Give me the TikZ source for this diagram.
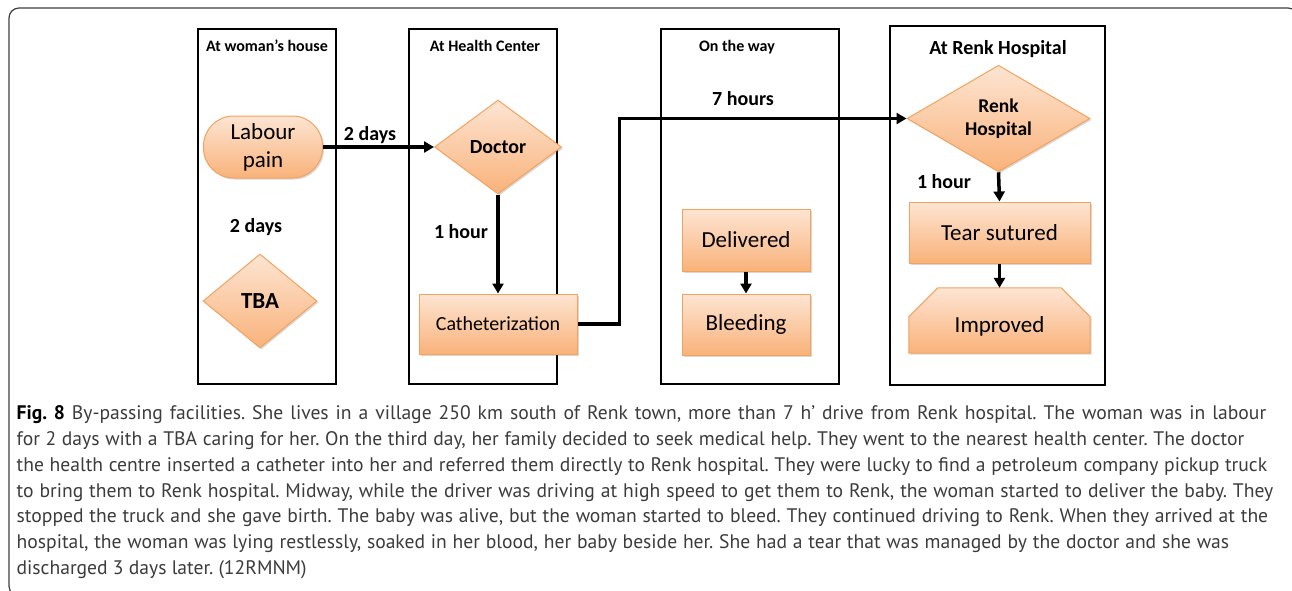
\documentclass[tikz,border=0pt]{standalone}
\usepackage{fontspec}
\setmainfont{Carlito}
\newfontfamily\capfont{PT Sans}
\usetikzlibrary{shapes.geometric,arrows.meta,shadows}
\definecolor{orTop}{HTML}{FDE5D3}
\definecolor{orBot}{HTML}{F9B27A}
\definecolor{orLine}{HTML}{F5A25C}
\definecolor{capgray}{HTML}{3C3C3C}
\frenchspacing
\begin{document}
\begin{tikzpicture}[x=1pt,y=-1pt,
  lane/.style={draw=black,line width=2.6pt},
  lanetitle/.style={font=\bfseries\fontsize{16}{18}\selectfont,inner sep=0pt},
  lbl/.style={font=\bfseries\fontsize{20}{22}\selectfont,inner sep=0pt},
  orfill/.style={draw=orLine,line width=1pt,top color=orTop,bottom color=orBot,
    drop shadow={opacity=0.25,shadow xshift=1.5pt,shadow yshift=-1.5pt,fill=black!60}},
  procbox/.style={orfill,rectangle,inner sep=0pt,font=\fontsize{23}{28}\selectfont,align=center},
  decide/.style={orfill,diamond,inner sep=0pt,align=center},
  conn/.style={line width=3.5pt,draw=black},
  arr/.style={conn,-{Triangle[length=10pt,width=11pt]}},
  capline/.style={anchor=base west,inner sep=0pt,text=capgray,font=\capfont\fontsize{19.6}{26}\selectfont\frenchspacing}
]
\useasboundingbox (0,0) rectangle (1292,590);
\clip (0,0) rectangle (1292,590);
\fill[white] (0,0) rectangle (1292,590);
\draw[line width=1.2pt,draw=black!75,rounded corners=10pt] (9,8) rectangle (1298,596);

% lanes
\draw[lane] (198,29) rectangle (336,384);
\draw[lane] (409,29) rectangle (557,384);
\draw[lane] (661,29) rectangle (839,384);
\draw[lane] (890,26) rectangle (1105,385);
\node[lanetitle] (t1) at (267,46) {At woman’s house};
\node[lanetitle] (t2) at (485,46) {At Health Center};
\node[lanetitle] (t3) at (737,47) {On the way};
\node[lanetitle,font=\bfseries\fontsize{20}{22}\selectfont] (t4) at (998,49) {At Renk Hospital};

% shapes
\node[procbox,rounded corners=30pt,minimum width=119pt,minimum height=62pt,
  font=\fontsize{23}{28}\selectfont] (lab) at (263,147) {Labour\\pain};
\node[decide,minimum width=127pt,minimum height=94pt,font=\bfseries\fontsize{20}{22}\selectfont] (doc) at (498,147) {Doctor};
\node[decide,minimum width=114pt,minimum height=94pt,font=\bfseries\fontsize{23}{26}\selectfont] (tba) at (260,301) {TBA};
\node[procbox,minimum width=158pt,minimum height=60pt,font=\fontsize{20}{24}\selectfont] (cath) at (498,324) {Catheterization};
\node[procbox,minimum width=128pt,minimum height=62pt] (del) at (746,240) {Delivered};
\node[procbox,minimum width=128pt,minimum height=61pt] (blee) at (746,324.5) {Bleeding};
\node[decide,minimum width=183pt,minimum height=101pt,font=\bfseries\fontsize{19.5}{23}\selectfont] (renk) at (998.5,118.5) {Renk\\Hospital};
\node[procbox,minimum width=181pt,minimum height=61pt] (tear) at (999.5,232.5) {Tear sutured};
\node[rectangle,inner sep=0pt,minimum width=181pt,minimum height=65pt] (impr) at (999.5,320.5) {};
\path[orfill] (impr.south west) -- ([yshift=-29pt]impr.west |- impr.north) -- ([xshift=29pt]impr.north west)
  -- ([xshift=-29pt]impr.north east) -- ([yshift=-29pt]impr.east |- impr.north) -- (impr.south east) -- cycle;
\node[font=\fontsize{23}{28}\selectfont,inner sep=0pt] (imprt) at ([yshift=-6pt]impr.center) {Improved};

% connectors
\draw[arr] (lab.east) -- (doc.west);
\draw[arr] (doc.south) -- (cath.north);
\coordinate (bend) at ([xshift=42pt]cath.east);
\draw[arr] (cath.east) -- (bend) |- (renk.west);
\draw[arr] (del.south) -- (blee.north);
\draw[arr] (renk.south) -- (tear.north);
\draw[arr] (tear.south) -- (impr.north);

% labels
\node[lbl] (d1) at (370,135) {2 days};
\node[lbl] (d2) at (256,227) {2 days};
\node[lbl] (h1) at (461,232) {1 hour};
\node[lbl] (h7) at (743,99) {7 hours};
\node[lbl] (h2) at (944,182) {1 hour};

% caption
\node[capline] (c1) at (16.5,419) {\makebox[1249.5pt][s]{\textbf{\color{black}Fig.~8} By-passing facilities. She lives in a village 250 km south of Renk town, more than 7 h’ drive from Renk hospital. The woman was in labour}};
\node[capline] (c2) at (16.5,445) {\makebox[1227.5pt][s]{for 2 days with a TBA caring for her. On the third day, her family decided to seek medical help. They went to the nearest health center. The doctor}};
\node[capline] (c3) at (16.5,471) {\makebox[1250.5pt][s]{the health centre inserted a catheter into her and referred them directly to Renk hospital. They were lucky to find a petroleum company pickup truck}};
\node[capline] (c4) at (16.5,497) {\makebox[1256.5pt][s]{to bring them to Renk hospital. Midway, while the driver was driving at high speed to get them to Renk, the woman started to deliver the baby. They}};
\node[capline] (c5) at (16.5,522) {\makebox[1251.5pt][s]{stopped the truck and she gave birth. The baby was alive, but the woman started to bleed. They continued driving to Renk. When they arrived at the}};
\node[capline] (c6) at (16.5,548) {\makebox[1212.5pt][s]{hospital, the woman was lying restlessly, soaked in her blood, her baby beside her. She had a tear that was managed by the doctor and she was}};
\node[capline] (c7) at (16.5,574) {discharged 3 days later. (12RMNM)};
\end{tikzpicture}
\end{document}
